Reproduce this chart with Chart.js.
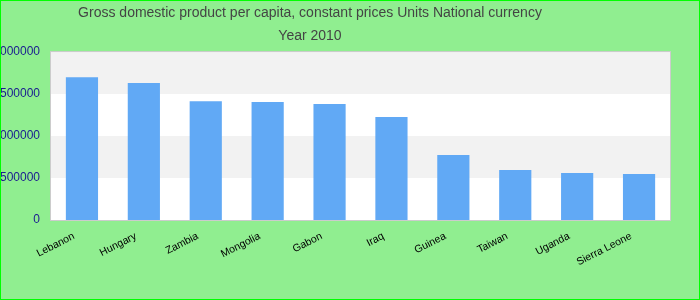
<!DOCTYPE html>
<html><head><meta charset="utf-8">
<script src="https://cdn.jsdelivr.net/npm/chart.js@4"></script>
<style>
html,body{margin:0;padding:0;background:#90ee90;}
#wrap{width:700px;height:300px;box-sizing:border-box;border:1px solid #00ff00;background:#90ee90;}
canvas{display:block;}
</style></head><body>
<div id="wrap"><canvas id="c" width="698" height="298"></canvas></div>
<script>
const categories = ['Lebanon','Hungary','Zambia','Mongolia','Gabon','Iraq','Guinea','Taiwan','Uganda','Sierra Leone'];
const gdpValues = [1700000,1630000,1415000,1405000,1380000,1225000,775000,595000,560000,548000];
const yTickValues = [0,500000,1000000,1500000,2000000];
const titleLines = ['Gross domestic product per capita, constant prices Units National currency','Year 2010'];

const FONT = '"Liberation Sans", Arial, sans-serif';

const bandsPlugin = {
  id: 'bands',
  beforeDraw(chart) {
    const {ctx, chartArea: a, scales: {y}} = chart;
    ctx.save();
    ctx.fillStyle = '#ffffff';
    ctx.fillRect(a.left, a.top, a.width, a.height);
    for (let i = 0; i < yTickValues.length - 1; i++) {
      if (i % 2 === 1) {
        const t = y.getPixelForValue(yTickValues[i + 1]);
        const b = y.getPixelForValue(yTickValues[i]);
        ctx.fillStyle = '#f2f2f2';
        ctx.fillRect(a.left, t, a.width, b - t);
      }
    }
    ctx.restore();
  },
  afterDatasetsDraw(chart) {
    const {ctx, chartArea: a} = chart;
    ctx.save();
    ctx.strokeStyle = '#cccccc';
    ctx.lineWidth = 1;
    ctx.strokeRect(a.left - 0.5, a.top - 0.5, a.width + 1, a.height + 1);
    ctx.restore();
  }
};

const titleShift = {
  id: 'titleShift',
  afterLayout(chart) {
    const t = chart.titleBlock;
    if (t) { t.left = 0; t.right = 618; }
  }
};

new Chart(document.getElementById('c'), {
  type: 'bar',
  data: {
    labels: categories,
    datasets: [{
      data: gdpValues,
      backgroundColor: '#61a9f5',
      barPercentage: 0.52,
      categoryPercentage: 1
    }]
  },
  options: {
    responsive: false,
    animation: false,
    layout: {padding: {left: 0, right: 29, top: 0, bottom: 0}},
    plugins: {
      legend: {display: false},
      tooltip: {enabled: false},
      title: {
        display: true,
        text: titleLines,
        color: '#444444',
        font: {family: FONT, size: 14, weight: 'normal', lineHeight: 1.68},
        padding: {top: 0, bottom: 4}
      }
    },
    scales: {
      x: {
        grid: {display: false, drawTicks: false},
        border: {display: false},
        ticks: {color: '#000000', font: {family: FONT, size: 10.5}, minRotation: 27, maxRotation: 27, padding: 10, labelOffset: -8, autoSkip: false},
        afterFit: s => { s.height = 79; }
      },
      y: {
        min: 0, max: 2000000,
        grid: {display: false, drawTicks: false},
        border: {display: false},
        ticks: {stepSize: 500000, color: '#1a1a90', font: {family: FONT, size: 12}, padding: 11, callback: v => String(v)},
        afterFit: s => { s.width = 50; }
      }
    }
  },
  plugins: [bandsPlugin, titleShift]
});
</script>
</body></html>
